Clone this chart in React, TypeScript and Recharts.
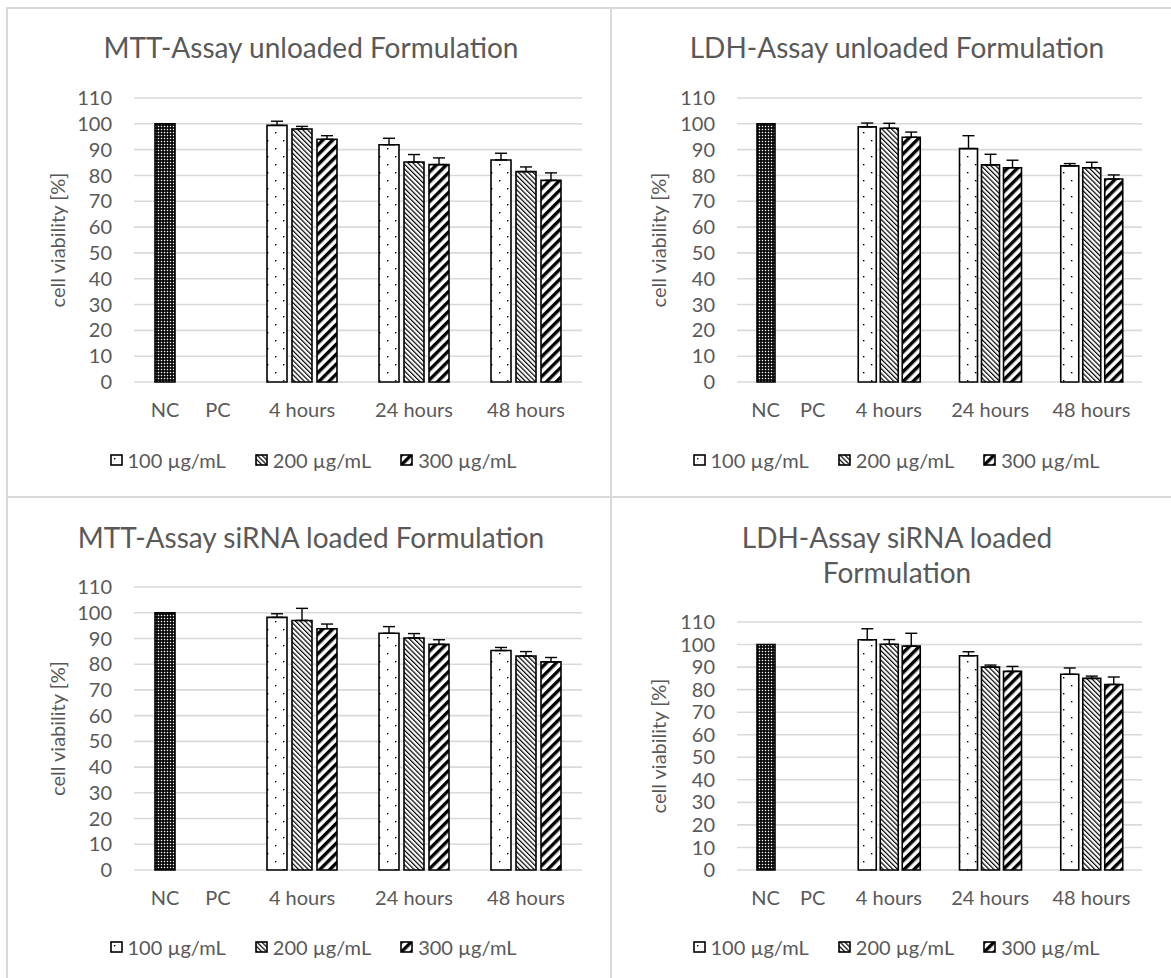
import React from 'react';
import { BarChart, Bar, XAxis, YAxis, CartesianGrid, ErrorBar, Cell } from 'recharts';

// categories on the x axis; the first one holds the NC and PC controls
const categories = ['NC/PC', '4 hours', '24 hours', '48 hours'];
const controlLabels = ['NC', 'PC'];
const seriesNames = ['100 µg/mL', '200 µg/mL', '300 µg/mL'];
const yTicks = [0, 10, 20, 30, 40, 50, 60, 70, 80, 90, 100, 110];

// MTT-Assay unloaded Formulation (first value of series 1 = NC, series 2/3 = PC)
const mttUnloaded100 = [100, 99.4, 91.9, 86.0];
const mttUnloaded200 = [0, 98.0, 85.2, 81.5];
const mttUnloaded300 = [0, 94.0, 84.2, 78.1];
const mttUnloadedErr100 = [null, 1.6, 2.5, 2.6];
const mttUnloadedErr200 = [null, 1.0, 2.9, 1.8];
const mttUnloadedErr300 = [null, 1.4, 2.6, 2.9];

// LDH-Assay unloaded Formulation
const ldhUnloaded100 = [100, 98.8, 90.4, 83.7];
const ldhUnloaded200 = [0, 98.3, 84.1, 83.0];
const ldhUnloaded300 = [0, 94.8, 83.0, 78.6];
const ldhUnloadedErr100 = [null, 1.5, 5.0, 0.9];
const ldhUnloadedErr200 = [null, 1.9, 4.1, 2.1];
const ldhUnloadedErr300 = [null, 2.0, 2.9, 1.6];

// MTT-Assay siRNA loaded Formulation
const mttLoaded100 = [100, 98.2, 92.0, 85.3];
const mttLoaded200 = [0, 97.0, 90.2, 83.2];
const mttLoaded300 = [0, 93.8, 87.7, 80.9];
const mttLoadedErr100 = [null, 1.4, 2.6, 1.2];
const mttLoadedErr200 = [null, 4.7, 1.7, 1.7];
const mttLoadedErr300 = [null, 1.8, 1.8, 1.7];

// LDH-Assay siRNA loaded Formulation
const ldhLoaded100 = [100, 102.1, 95.0, 86.8];
const ldhLoaded200 = [0, 100.1, 90.0, 85.0];
const ldhLoaded300 = [0, 99.3, 88.1, 82.3];
const ldhLoadedErr100 = [null, 4.9, 1.8, 2.8];
const ldhLoadedErr200 = [null, 2.1, 0.9, 1.0];
const ldhLoadedErr300 = [null, 5.7, 2.2, 3.3];

const FONT = 'Lato, "Open Sans", sans-serif';
const TEXT = '#595959';
const GRID = '#d9d9d9';

type Err = number | null;

function buildRows(v1: number[], v2: number[], v3: number[], e1: Err[], e2: Err[], e3: Err[]) {
  const plus = (e: Err) => (e == null ? null : [0, e]);
  return categories.map((name, i) => ({
    name,
    s100: v1[i],
    s200: v2[i],
    s300: v3[i],
    e100: plus(e1[i]),
    e200: plus(e2[i]),
    e300: plus(e3[i]),
  }));
}

const PANELS = [
  {
    title: ['MTT-Assay unloaded Formulation'],
    data: buildRows(mttUnloaded100, mttUnloaded200, mttUnloaded300, mttUnloadedErr100, mttUnloadedErr200, mttUnloadedErr300),
    left: 7, top: 8, width: 604, height: 489,
    margin: { top: 90, right: 29, bottom: 75, left: 51 }, yWidth: 76,
    barSize: 20, barGap: 5, titleX: 311, titleY: 47, legendX: 313, legendY: 460,
  },
  {
    title: ['LDH-Assay unloaded Formulation'],
    data: buildRows(ldhUnloaded100, ldhUnloaded200, ldhUnloaded300, ldhUnloadedErr100, ldhUnloadedErr200, ldhUnloadedErr300),
    left: 611, top: 8, width: 560, height: 489,
    margin: { top: 90, right: 29, bottom: 75, left: 48 }, yWidth: 78,
    barSize: 18, barGap: 4, titleX: 897, titleY: 47, legendX: 896, legendY: 460,
  },
  {
    title: ['MTT-Assay siRNA loaded Formulation'],
    data: buildRows(mttLoaded100, mttLoaded200, mttLoaded300, mttLoadedErr100, mttLoadedErr200, mttLoadedErr300),
    left: 7, top: 497, width: 604, height: 481,
    margin: { top: 90, right: 29, bottom: 68, left: 51 }, yWidth: 76,
    barSize: 20, barGap: 5, titleX: 311, titleY: 537, legendX: 313, legendY: 947,
  },
  {
    title: ['LDH-Assay siRNA loaded', 'Formulation'],
    data: buildRows(ldhLoaded100, ldhLoaded200, ldhLoaded300, ldhLoadedErr100, ldhLoadedErr200, ldhLoadedErr300),
    left: 611, top: 497, width: 560, height: 481,
    margin: { top: 125, right: 29, bottom: 68, left: 48 }, yWidth: 78,
    barSize: 18, barGap: 4, titleX: 897, titleY: 537, legendX: 896, legendY: 947,
  },
];

const FILLS = ['url(#p100)', 'url(#p200)', 'url(#p300)'];

function Patterns() {
  return (
    <svg width={0} height={0} style={{ position: 'absolute' }}>
      <defs>
        <pattern id="pNC" width={3} height={3} patternUnits="userSpaceOnUse">
          <rect width={3} height={3} fill="#000" />
          <rect x={0.8} y={0.8} width={1.4} height={1.4} fill="#fff" />
        </pattern>
        <pattern id="p100" width={16} height={16} patternUnits="userSpaceOnUse">
          <rect width={16} height={16} fill="#fff" />
          <rect x={4} y={4} width={1.4} height={1.4} fill="#000" />
          <rect x={12} y={12} width={1.4} height={1.4} fill="#000" />
        </pattern>
        <pattern id="p200" width={3.4} height={10} patternUnits="userSpaceOnUse" patternTransform="rotate(-45)">
          <rect width={3.4} height={10} fill="#fff" />
          <rect width={1.2} height={10} fill="#000" />
        </pattern>
        <pattern id="p300" width={7} height={10} patternUnits="userSpaceOnUse" patternTransform="rotate(45)">
          <rect width={7} height={10} fill="#fff" />
          <rect width={3.4} height={10} fill="#000" />
        </pattern>
      </defs>
    </svg>
  );
}

function makeTick(step: number) {
  return (props: any) => {
    const { x, y, payload } = props;
    const ty = y + 35;
    const style = { fontFamily: FONT, fontSize: 20, fill: TEXT };
    if (payload.value === categories[0]) {
      return (
        <g>
          <text x={x - step} y={ty} textAnchor="middle" style={style}>{controlLabels[0]}</text>
          <text x={x + step + 3} y={ty} textAnchor="middle" style={style}>{controlLabels[1]}</text>
        </g>
      );
    }
    return <text x={x} y={ty} textAnchor="middle" style={style}>{payload.value}</text>;
  };
}

function LegendRow({ cx, cy }: { cx: number; cy: number }) {
  return (
    <div
      style={{
        position: 'absolute', left: cx - 250, top: cy - 13, width: 500, height: 26,
        display: 'flex', justifyContent: 'center', alignItems: 'center',
        fontFamily: FONT, fontSize: 20, color: TEXT, whiteSpace: 'nowrap',
      }}
    >
      {seriesNames.map((name, i) => (
        <div key={name} style={{ display: 'flex', alignItems: 'center', marginRight: i < 2 ? 29 : 0 }}>
          <svg width={13} height={12} style={{ marginRight: 5 }}>
            <rect x={1} y={1} width={11} height={10} fill={FILLS[i]} stroke="#000" strokeWidth={1.6} />
          </svg>
          <span>{name}</span>
        </div>
      ))}
    </div>
  );
}

function Panel({ p }: { p: (typeof PANELS)[number] }) {
  const step = p.barSize + p.barGap;
  const keys = ['s100', 's200', 's300'];
  const errs = ['e100', 'e200', 'e300'];
  return (
    <>
      {p.title.map((line, i) => (
        <div
          key={line}
          style={{
            position: 'absolute', left: p.titleX - 300, width: 600, top: p.titleY - 17 + i * 35,
            textAlign: 'center', fontFamily: FONT, fontSize: 28, lineHeight: '34px', color: TEXT,
          }}
        >
          {line}
        </div>
      ))}
      <div style={{ position: 'absolute', left: p.left, top: p.top }}>
        <BarChart
          width={p.width}
          height={p.height}
          data={p.data}
          margin={p.margin}
          barSize={p.barSize}
          barGap={p.barGap}
        >
          <CartesianGrid vertical={false} stroke={GRID} strokeWidth={1.6} />
          <XAxis
            dataKey="name"
            axisLine={false}
            tickLine={false}
            tickSize={0}
            tickMargin={0}
            interval={0}
            height={40}
            tick={makeTick(step)}
          />
          <YAxis
            domain={[0, 110]}
            ticks={yTicks}
            interval={0}
            axisLine={false}
            tickLine={false}
            tickSize={0}
            tickMargin={22}
            width={p.yWidth}
            tick={{ fontFamily: FONT, fontSize: 20, fill: TEXT }}
            label={{
              value: 'cell viability [%]',
              angle: -90,
              position: 'insideLeft',
              offset: 0,
              style: { textAnchor: 'middle', fontFamily: FONT, fontSize: 20, fill: TEXT },
            }}
          />
          {keys.map((k, si) => (
            <Bar
              key={k}
              dataKey={k}
              fill={FILLS[si]}
              stroke="#000"
              strokeWidth={1.6}
              isAnimationActive={false}
            >
              {p.data.map((_, i) => (
                <Cell key={i} fill={si === 0 && i === 0 ? 'url(#pNC)' : FILLS[si]} />
              ))}
              <ErrorBar dataKey={errs[si]} width={6} stroke="#000" strokeWidth={1.4} direction="y" />
            </Bar>
          ))}
        </BarChart>
      </div>
      <LegendRow cx={p.legendX} cy={p.legendY} />
    </>
  );
}

export default function App() {
  return (
    <div
      style={{
        position: 'absolute', left: 0, top: 0, width: 1171, height: 978,
        background: '#fff', overflow: 'hidden',
      }}
    >
      <Patterns />
      <div style={{ position: 'absolute', left: 6, top: 7, width: 1165, height: 2, background: GRID }} />
      <div style={{ position: 'absolute', left: 6, top: 7, width: 2, height: 971, background: GRID }} />
      <div style={{ position: 'absolute', left: 610, top: 7, width: 2, height: 971, background: GRID }} />
      <div style={{ position: 'absolute', left: 6, top: 496, width: 1165, height: 2, background: GRID }} />
      {PANELS.map((p) => (
        <Panel key={p.title.join(' ')} p={p} />
      ))}
    </div>
  );
}
